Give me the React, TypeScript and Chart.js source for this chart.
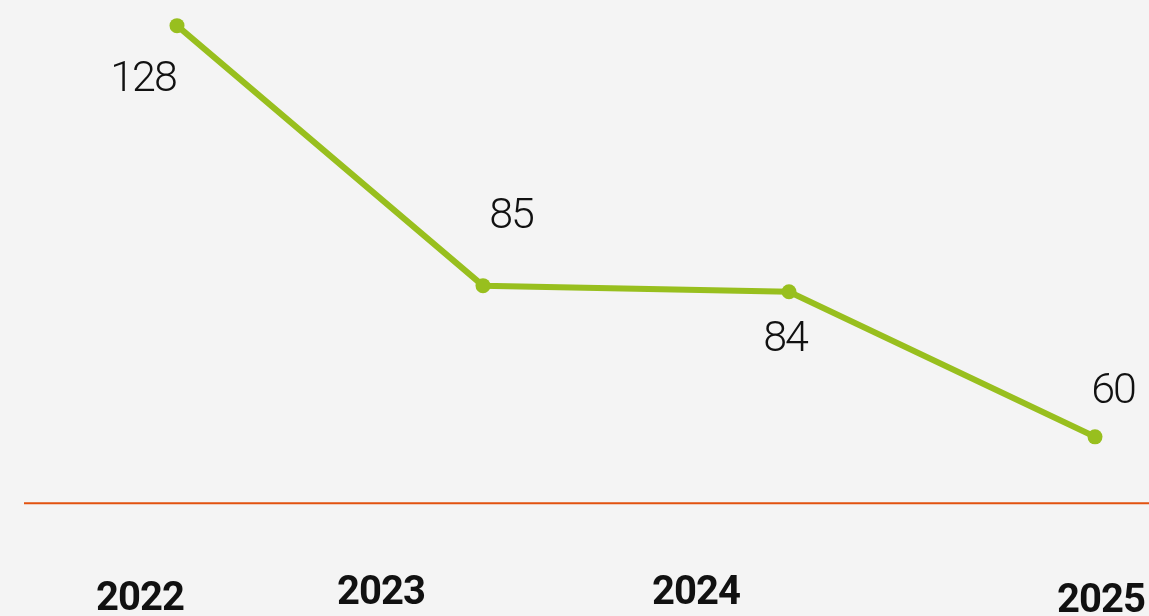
import React, { useEffect, useRef } from "react";
import { Chart, registerables } from "chart.js";

Chart.register(...registerables);

const years = ["2022", "2023", "2024", "2025"];
const values = [128, 85, 84, 60];
const referenceLine = 49;

// label placement (style only): offset of text center / baseline from its point
const valueLabelOffsets = [
  [-34, 65],
  [28, -58],
  [-4, 59],
  [18, -34],
];
// year labels: x offset from point, baseline y in canvas px
const yearLabelPlacement = [
  [-37, 610],
  [-102, 604],
  [-93, 604],
  [6, 612],
];

const GREEN = "#98bf1e";
const ORANGE = "#e2520f";
const BG = "#f4f4f4";

const decorPlugin = {
  id: "decor",
  beforeDatasetsDraw(chart: any) {
    const { ctx, scales } = chart;
    const y = scales.y.getPixelForValue(referenceLine);
    ctx.save();
    ctx.strokeStyle = ORANGE;
    ctx.lineWidth = 2;
    ctx.beginPath();
    ctx.moveTo(24, y);
    ctx.lineTo(chart.width, y);
    ctx.stroke();
    ctx.restore();
  },
  afterDatasetsDraw(chart: any) {
    const { ctx } = chart;
    const meta = chart.getDatasetMeta(0);
    ctx.save();
    ctx.fillStyle = "#111";
    ctx.textAlign = "center";
    ctx.textBaseline = "alphabetic";
    ctx.font = "300 43px Roboto";
    try { (ctx as any).letterSpacing = "-2px"; } catch (e) {}
    meta.data.forEach((pt: any, i: number) => {
      const [dx, dy] = valueLabelOffsets[i];
      ctx.fillText(String(values[i]), pt.x + dx, pt.y + dy);
    });
    ctx.font = "bold 40px Roboto";
    try { (ctx as any).letterSpacing = "-1px"; } catch (e) {}
    meta.data.forEach((pt: any, i: number) => {
      const [dx, by] = yearLabelPlacement[i];
      ctx.fillText(years[i], pt.x + dx, by);
    });
    ctx.restore();
  },
};

export default function App() {
  const ref = useRef<HTMLCanvasElement | null>(null);
  useEffect(() => {
    document.body.style.margin = "0";
    document.body.style.background = BG;
    const chart = new Chart(ref.current as HTMLCanvasElement, {
      type: "line",
      data: {
        labels: years,
        datasets: [
          {
            data: values,
            borderColor: GREEN,
            backgroundColor: GREEN,
            borderWidth: 6,
            pointRadius: 7.5,
            pointBackgroundColor: GREEN,
            pointBorderWidth: 0,
            tension: 0,
            clip: false as any,
          },
        ],
      },
      options: {
        animation: false,
        responsive: false,
        layout: { padding: { left: 177, right: 54, top: 2, bottom: 28 } },
        plugins: { legend: { display: false }, tooltip: { enabled: false } },
        scales: {
          x: { display: false, offset: false },
          y: { display: false, min: 35, max: 131 },
        },
      },
      plugins: [decorPlugin],
    });
    return () => chart.destroy();
  }, []);
  return (
    <div style={{ position: "absolute", left: 0, top: 0, width: 1149, height: 616, background: BG }}>
      <canvas ref={ref} width={1149} height={616} style={{ display: "block" }} />
    </div>
  );
}
